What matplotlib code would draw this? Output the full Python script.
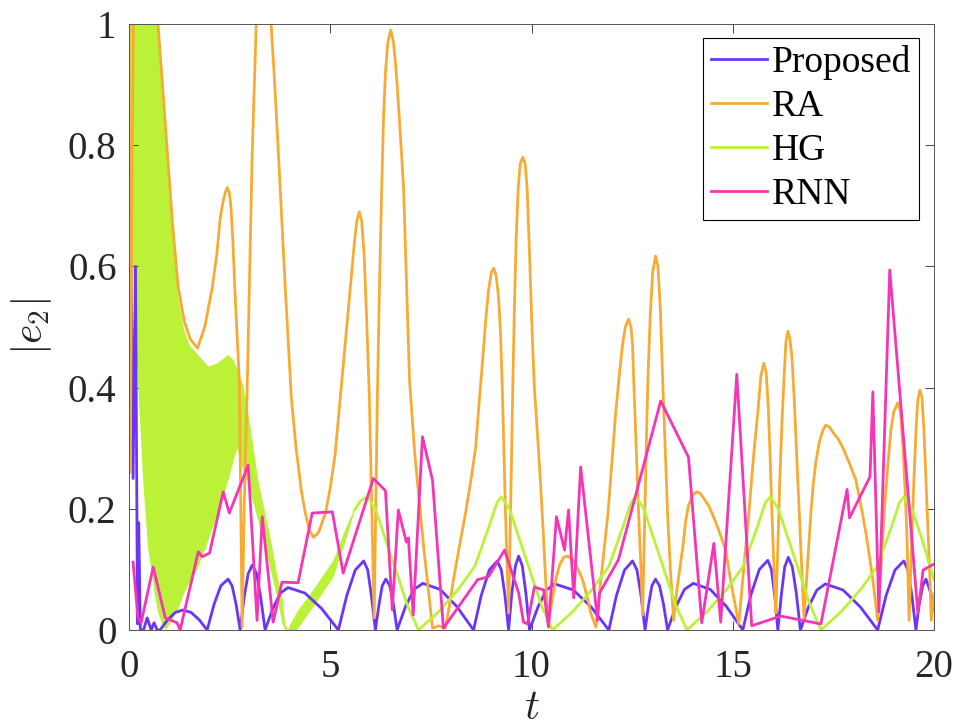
import matplotlib
matplotlib.use('Agg')
import matplotlib.pyplot as plt

# Proposed
p_t = [0.0, 0.04, 0.1, 0.16, 0.21, 0.24, 0.28, 0.36, 0.45, 0.55, 0.62, 0.7,
       0.77, 0.96, 1.15, 1.34, 1.54, 1.74, 1.94,
       2.11, 2.28, 2.46, 2.56, 2.66, 2.76,
       2.86, 2.96, 3.06, 3.17, 3.27, 3.38,
       3.57, 3.76, 3.95, 4.37, 4.79, 5.2,
       5.41, 5.62, 5.83, 5.93, 6.02, 6.12,
       6.21, 6.29, 6.38, 6.48, 6.57, 6.66,
       6.87, 7.08, 7.3, 7.73, 8.14, 8.56,
       8.75, 8.95, 9.15, 9.25, 9.34, 9.43,
       9.51, 9.6, 9.68, 9.77, 9.86, 9.95,
       10.16, 10.37, 10.58, 11.04, 11.48, 11.92,
       12.11, 12.31, 12.51, 12.62, 12.72, 12.82,
       12.91, 12.99, 13.08, 13.18, 13.28, 13.38,
       13.59, 13.8, 14.02, 14.44, 14.84, 15.25,
       15.45, 15.66, 15.87, 15.96, 16.04, 16.12,
       16.21, 16.29, 16.38, 16.48, 16.58, 16.68,
       16.88, 17.09, 17.3, 17.74, 18.17, 18.6,
       18.81, 19.03, 19.25, 19.35, 19.45, 19.55,
       19.63, 19.72, 19.8, 19.9, 20.0]
p_v = [0.3, 0.71, 0.25, 0.6, 0.01, 0.177, 0.0, 0.0, 0.02, 0.0, 0.012, 0.0,
       0.0, 0.017, 0.029, 0.033, 0.029, 0.017, 0.0,
       0.042, 0.073, 0.084, 0.073, 0.042, 0.0,
       0.054, 0.093, 0.107, 0.093, 0.054, 0.0,
       0.035, 0.061, 0.07, 0.061, 0.035, 0.0,
       0.057, 0.099, 0.114, 0.099, 0.057, 0.0,
       0.042, 0.073, 0.084, 0.073, 0.042, 0.0,
       0.039, 0.067, 0.077, 0.067, 0.039, 0.0,
       0.057, 0.099, 0.114, 0.099, 0.057, 0.0,
       0.061, 0.106, 0.122, 0.106, 0.061, 0.0,
       0.038, 0.066, 0.076, 0.066, 0.038, 0.0,
       0.057, 0.099, 0.114, 0.099, 0.057, 0.0,
       0.042, 0.073, 0.084, 0.073, 0.042, 0.0,
       0.039, 0.067, 0.077, 0.067, 0.039, 0.0,
       0.058, 0.1, 0.115, 0.1, 0.058, 0.0,
       0.06, 0.104, 0.12, 0.104, 0.06, 0.0,
       0.038, 0.066, 0.076, 0.066, 0.038, 0.0,
       0.057, 0.099, 0.114, 0.099, 0.057, 0.0,
       0.042, 0.073, 0.084, 0.065, 0.035]

# RA
ra_t = [0.0, 0.03, 0.08, 0.12, 0.35, 0.72, 0.83, 0.95, 1.08, 1.22, 1.37, 1.52, 1.7,
        1.88, 2.07, 2.18, 2.26, 2.33, 2.39, 2.44, 2.49, 2.53, 2.58, 2.63, 2.69, 2.74, 2.81,
        2.86, 2.93, 3.0, 3.06, 3.16, 3.35, 3.53, 3.62, 3.71, 3.8, 3.88, 3.96, 4.03, 4.15, 4.28, 4.38, 4.48, 4.58,
        4.7, 4.8, 4.88, 5.0, 5.12, 5.25, 5.38, 5.5, 5.6, 5.66, 5.72, 5.78, 5.84, 5.9, 5.97, 6.03, 6.09,
        6.13, 6.17, 6.22, 6.27, 6.32, 6.37, 6.43, 6.5, 6.57, 6.64, 6.72, 6.82, 6.9, 6.97, 7.1, 7.24, 7.33,
        7.41, 7.48, 7.54, 7.69, 7.86,
        7.96, 8.06, 8.2, 8.36, 8.5, 8.61, 8.71, 8.79, 8.86, 8.93, 9.0, 9.06, 9.12, 9.18, 9.23, 9.28, 9.35, 9.43,
        9.48, 9.53, 9.57, 9.62, 9.67, 9.72, 9.78, 9.84, 9.89, 9.95, 10.01, 10.07, 10.15, 10.22, 10.3, 10.35, 10.42,
        10.5, 10.6, 10.7, 10.8, 10.9, 11.0, 11.12, 11.27, 11.38, 11.47, 11.6,
        11.75, 11.9, 12.0, 12.09, 12.18, 12.26, 12.33, 12.41, 12.47, 12.51, 12.54, 12.6, 12.66, 12.72, 12.76,
        12.8, 12.85, 12.89, 12.95, 13.01, 13.08, 13.14, 13.2, 13.26, 13.32, 13.38, 13.45, 13.53,
        13.6, 13.68, 13.76, 13.83, 13.9, 14.0, 14.1, 14.2, 14.3, 14.4, 14.5, 14.65, 14.83, 14.95, 15.05, 15.15,
        15.27, 15.4, 15.52, 15.62, 15.7, 15.77, 15.83, 15.88, 15.93, 15.98, 16.03, 16.07,
        16.12, 16.17, 16.22, 16.27, 16.32, 16.37, 16.42, 16.47, 16.52, 16.6, 16.69, 16.77,
        16.85, 16.94, 17.0, 17.06, 17.15, 17.24, 17.31, 17.4, 17.5, 17.62, 17.74, 17.9, 18.06, 18.2, 18.31,
        18.4, 18.48, 18.6,
        18.68, 18.76, 18.85, 18.93, 19.0, 19.1, 19.17, 19.23, 19.29, 19.33, 19.38,
        19.44, 19.5, 19.56, 19.6, 19.65, 19.7, 19.75, 19.8, 19.86, 19.9, 19.93, 20.0]
ra_v = [1.0, 0.26, 0.8, 1.1, 1.3, 1.0, 0.9, 0.79, 0.67, 0.566, 0.51, 0.48, 0.465,
        0.5, 0.566, 0.62, 0.677, 0.705, 0.722, 0.73, 0.722, 0.70, 0.64, 0.56, 0.48, 0.41, 0.005,
        0.2, 0.385, 0.6, 0.787, 1.0, 1.07, 1.0, 0.9, 0.787, 0.67, 0.566, 0.47, 0.385, 0.3, 0.23, 0.193, 0.165, 0.153,
        0.16, 0.178, 0.193, 0.235, 0.29, 0.385, 0.48, 0.566, 0.64, 0.675, 0.69, 0.675, 0.62, 0.52, 0.385, 0.2, 0.02,
        0.2, 0.385, 0.56, 0.71, 0.84, 0.92, 0.97, 0.99, 0.97, 0.92, 0.84, 0.73, 0.56, 0.41, 0.29, 0.193, 0.13,
        0.083, 0.04, 0.003, 0.007, 0.003,
        0.04, 0.083, 0.135, 0.193, 0.25, 0.30, 0.385, 0.45, 0.51, 0.56, 0.59, 0.597, 0.585, 0.55, 0.49, 0.385, 0.2, 0.028,
        0.2, 0.385, 0.52, 0.65, 0.73, 0.77, 0.78, 0.77, 0.73, 0.62, 0.5, 0.4, 0.32, 0.247, 0.15, 0.083, 0.008,
        0.045, 0.083, 0.108, 0.12, 0.122, 0.118, 0.105, 0.083, 0.055, 0.028, 0.005,
        0.1, 0.193, 0.28, 0.358, 0.42, 0.47, 0.5, 0.513, 0.5, 0.47, 0.41, 0.3, 0.193, 0.1, 0.025,
        0.15, 0.3, 0.41, 0.52, 0.59, 0.617, 0.6, 0.53, 0.41, 0.3, 0.193, 0.1, 0.016,
        0.06, 0.1, 0.137, 0.18, 0.205, 0.222, 0.228, 0.225, 0.215, 0.205, 0.19, 0.165, 0.13, 0.08, 0.045, 0.01,
        0.1, 0.193, 0.29, 0.358, 0.42, 0.44, 0.425, 0.37, 0.28, 0.18, 0.09, 0.028,
        0.14, 0.25, 0.34, 0.41, 0.475, 0.493, 0.48, 0.45, 0.39, 0.27, 0.137, 0.02,
        0.1, 0.193, 0.24, 0.275, 0.31, 0.33, 0.338, 0.335, 0.325, 0.315, 0.30, 0.275, 0.247, 0.2, 0.16,
        0.12, 0.083, 0.016,
        0.1, 0.193, 0.27, 0.33, 0.36, 0.375, 0.36, 0.3, 0.22, 0.15, 0.016,
        0.13, 0.247, 0.34, 0.38, 0.396, 0.385, 0.33, 0.247, 0.15, 0.083, 0.016, 0.06]

# HG: fast oscillation at the start shows as a filled band (envelopes)
hg_band_t = [0.0, 0.05, 0.12, 0.22, 0.35, 0.47, 0.65, 0.72, 0.83, 0.92,
             0.95, 1.08, 1.22, 1.37, 1.52, 1.7, 1.97, 2.2, 2.39, 2.46,
             2.6, 2.69, 2.81, 2.94, 3.21, 3.38, 3.56, 3.68, 3.81, 3.88,
             3.95, 4.0, 4.18, 4.6, 5.08, 5.4, 5.6]
hg_lo = [0.9, 0.72, 0.55, 0.41, 0.247, 0.137, 0.055, 0.03, 0.008, 0.0,
         0.003, 0.017, 0.035, 0.06, 0.08, 0.1, 0.148, 0.19, 0.23, 0.245,
         0.28, 0.30, 0.27, 0.247, 0.18, 0.137, 0.088, 0.055, 0.01, 0.0,
         0.0, 0.0, 0.0, 0.04, 0.087, 0.15, 0.195]
hg_hi = [1.2, 1.2, 1.2, 1.2, 1.2, 1.15, 1.06, 0.99, 0.88, 0.8,
         0.775, 0.655, 0.55, 0.495, 0.468, 0.455, 0.435, 0.44, 0.45, 0.454,
         0.445, 0.43, 0.41, 0.37, 0.247, 0.194, 0.137, 0.09, 0.055, 0.01,
         0.0, 0.008, 0.03, 0.068, 0.115, 0.17, 0.2]
hg_t = [5.6, 5.75, 5.92, 6.12, 6.37, 6.67, 6.92, 7.19,
        7.69, 8.19, 8.59, 8.94, 9.14, 9.25, 9.45, 9.7, 10.0, 10.25, 10.52,
        11.02, 11.52, 11.92, 12.27, 12.47, 12.59, 12.79, 13.04, 13.34, 13.59, 13.86,
        14.36, 14.86, 15.26, 15.61, 15.81, 15.93, 16.13, 16.38, 16.68, 16.93, 17.19,
        17.69, 18.19, 18.59, 18.94, 19.14, 19.25, 19.45, 19.7, 20.0]
hg_v = [0.198, 0.213, 0.22, 0.2, 0.15, 0.09, 0.04, 0.0,
        0.03, 0.068, 0.105, 0.17, 0.21, 0.22, 0.2, 0.15, 0.09, 0.04, 0.0,
        0.03, 0.068, 0.105, 0.17, 0.21, 0.22, 0.2, 0.15, 0.09, 0.04, 0.0,
        0.03, 0.068, 0.105, 0.17, 0.21, 0.22, 0.2, 0.15, 0.09, 0.04, 0.0,
        0.03, 0.068, 0.105, 0.17, 0.21, 0.22, 0.2, 0.15, 0.083]

# RNN
r_t = [0.1, 0.22, 0.3, 0.6, 0.9, 1.19, 1.27, 1.72, 1.82, 2.0, 2.34, 2.49, 2.96, 3.18, 3.31, 3.58, 3.8, 4.2, 4.55,
       5.05, 5.32, 6.07, 6.37, 6.54, 6.69, 6.89, 6.94, 7.06, 7.29, 7.54, 7.81, 8.66, 8.93, 9.33, 9.68, 9.8, 9.9,
       10.07, 10.3, 10.42, 10.62, 10.82, 10.92, 11.05, 11.22, 11.64, 11.69, 12.16, 13.21, 13.9, 14.23, 14.53,
       14.7, 15.1, 15.47, 16.19, 17.19, 17.84, 17.9, 18.41, 18.48, 18.63, 18.9, 19.6, 19.73, 20.0]
r_v = [0.112, 0.02, 0.012, 0.104, 0.02, 0.012, 0.0, 0.129, 0.121, 0.127, 0.228, 0.193, 0.272, 0.016, 0.187, 0.013, 0.079, 0.078, 0.193,
       0.195, 0.094, 0.25, 0.23, 0.033, 0.198, 0.145, 0.152, 0.025, 0.319, 0.247, 0.003, 0.083, 0.088, 0.132, 0.061, 0.013, 0.01,
       0.071, 0.066, 0.005, 0.187, 0.132, 0.198, 0.053, 0.269, 0.016, 0.061, 0.116, 0.378, 0.285, 0.012, 0.143,
       0.013, 0.422, 0.007, 0.023, 0.01, 0.232, 0.185, 0.253, 0.393, 0.03, 0.594, 0.028, 0.099, 0.109]

labels = ['Proposed', 'RA', 'HG', 'RNN']
colors = ['#6a35f7', '#f7ab34', '#bbf238', '#f734b5']

plt.rcParams['font.family'] = 'Liberation Serif'
plt.rcParams['mathtext.fontset'] = 'cm'

fig = plt.figure(figsize=(9.56, 7.27), dpi=100)
ax = fig.add_axes([0.135, 0.1334, 0.842, 0.8336])
lw = 2.0

ax.plot(p_t, p_v, color=colors[0], lw=lw, label=labels[0])
ax.plot(ra_t, ra_v, color=colors[1], lw=lw, label=labels[1])
ax.fill_between(hg_band_t, hg_lo, hg_hi, color=colors[2], lw=0)
ax.plot(hg_t, hg_v, color=colors[2], lw=lw, label=labels[2])
ax.plot(r_t, r_v, color=colors[3], lw=lw, label=labels[3])

ax.set_xlim(0, 20)
ax.set_ylim(0, 1)
ax.set_xticks([0, 5, 10, 15, 20])
ax.set_yticks([0, 0.2, 0.4, 0.6, 0.8, 1])
ax.set_yticklabels(['0', '0.2', '0.4', '0.6', '0.8', '1'])
ax.tick_params(direction='in', top=True, right=True, length=6.5, width=0.6,
               color='#262626', labelsize=28, labelcolor='#262626')
ax.tick_params(axis='x', pad=14)
ax.tick_params(axis='y', pad=9)
for s in ax.spines.values():
    s.set_linewidth(0.7)
    s.set_color('#555555')

ax.set_xlabel('$t$', fontsize=30, labelpad=2, color='#262626')
ax.set_ylabel('$|e_2|$', fontsize=30, labelpad=10, color='#262626')

leg = ax.legend(loc='upper right', bbox_to_anchor=(0.981, 0.977), borderaxespad=0,
                fontsize=27, fancybox=False, edgecolor='black', framealpha=1,
                handlelength=1.5, handletextpad=0.13, labelspacing=0.25,
                borderpad=0.2)
leg.get_frame().set_linewidth(0.8)

fig.savefig('out.png', dpi=100)
